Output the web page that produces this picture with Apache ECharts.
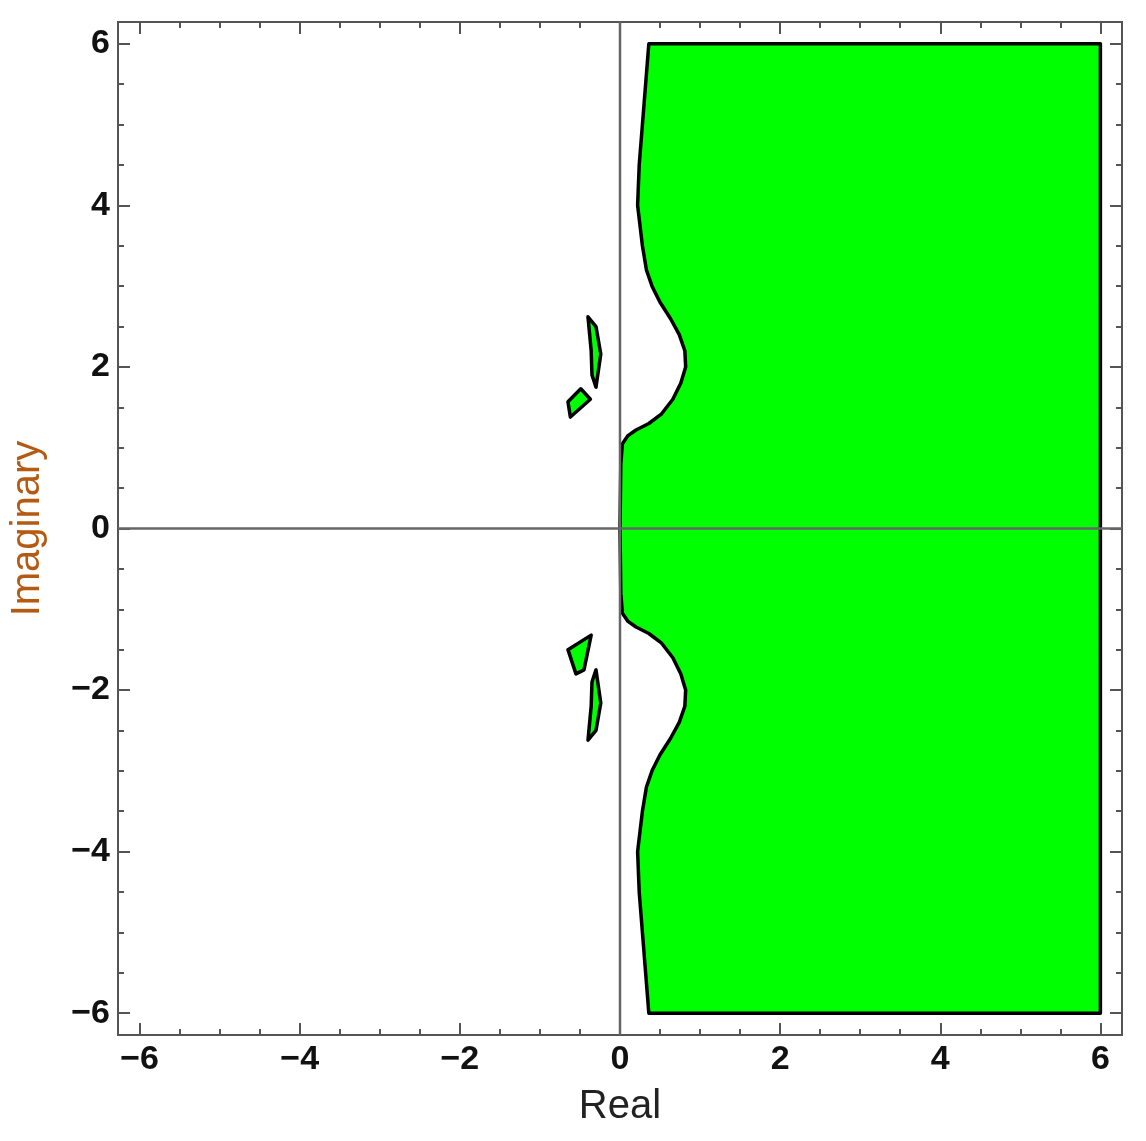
<!DOCTYPE html>
<html><head><meta charset="utf-8">
<script src="https://cdn.jsdelivr.net/npm/echarts@6/dist/echarts.min.js"></script>
<style>html,body{margin:0;background:#fff}#c{width:1146px;height:1141px}</style>
</head><body><div id="c"></div>
<script>
// upper half of the main region's left boundary, [x, y]
const mainEdgeUp = [[0,0],[0.005,0.4],[0.01,0.8],[0.03,1.05],[0.1,1.15],[0.2,1.22],[0.36,1.3],[0.52,1.42],[0.66,1.6],[0.76,1.8],[0.82,2.0],[0.81,2.2],[0.74,2.4],[0.63,2.6],[0.5,2.8],[0.4,3.0],[0.33,3.2],[0.28,3.5],[0.22,4.0],[0.24,4.5],[0.28,5.0],[0.32,5.5],[0.36,6]];
const sliverUp = [[-0.4,2.62],[-0.3,2.5],[-0.24,2.16],[-0.3,1.75],[-0.35,1.9],[-0.36,2.2]];
const quadUp = [[-0.65,1.57],[-0.49,1.73],[-0.37,1.6],[-0.62,1.38]];
const quadDn = [[-0.65,-1.5],[-0.36,-1.32],[-0.45,-1.75],[-0.55,-1.8]];
const majorTicks = [-6,-4,-2,0,2,4,6];
const minorTicks = [-6,-5.5,-5,-4.5,-4,-3.5,-3,-2.5,-2,-1.5,-1,-0.5,0,0.5,1,1.5,2,2.5,3,3.5,4,4.5,5,5.5,6];
const LIM = 6.27;

const mainRegion = mainEdgeUp.slice().reverse().concat(mainEdgeUp.slice(1).map(p => [p[0], -p[1]]), [[6,-6],[6,6]]);
const sliverDn = sliverUp.map(p => [p[0], -p[1]]);
const regions = [mainRegion, sliverUp, quadUp, sliverDn, quadDn];
const fmt = v => (v < 0 ? '\u2212' + (-v) : '' + v);

function mkAxis(type, pos, withLabels, ticks, len, name) {
  return {
    type: 'value', position: pos, min: -LIM, max: LIM,
    name: name || '', nameLocation: 'middle',
    nameGap: type === 'x' ? 52 : 70,
    nameTextStyle: type === 'x' ? {fontSize: 40, color: '#222', fontFamily: 'Liberation Sans'} : {fontSize: 40, color: '#b55a12', fontFamily: 'Liberation Sans'},
    axisLine: {show: true, onZero: false, lineStyle: {color: '#555', width: 2}},
    axisTick: {show: true, inside: true, length: len, customValues: ticks, lineStyle: {color: '#555', width: 2}},
    axisLabel: {show: withLabels, customValues: majorTicks, formatter: fmt, fontSize: 34, fontWeight: 'bold', color: '#111', fontFamily: 'Liberation Sans', margin: 8},
    splitLine: {show: false}
  };
}

const chart = echarts.init(document.getElementById('c'));
chart.setOption({
  animation: false,
  grid: {left: 116, right: 24, top: 22, bottom: 106},
  xAxis: [mkAxis('x','bottom',true,majorTicks,12,'Real'), mkAxis('x','bottom',false,minorTicks,6),
          mkAxis('x','top',false,majorTicks,12), mkAxis('x','top',false,minorTicks,6)],
  yAxis: [mkAxis('y','left',true,majorTicks,12,'Imaginary'), mkAxis('y','left',false,minorTicks,6),
          mkAxis('y','right',false,majorTicks,12), mkAxis('y','right',false,minorTicks,6)],
  series: [{
    type: 'custom', data: regions.map((r, i) => [i]),
    renderItem: function (params, api) {
      const pts = regions[params.dataIndex].map(p => api.coord(p));
      return {type: 'polygon', shape: {points: pts, smooth: 0},
        style: {fill: '#00ff00', stroke: '#000', lineWidth: 3.5, lineJoin: 'round'}};
    }
  }, {
    type: 'line', data: [[0,-LIM],[0,LIM]], symbol: 'none', lineStyle: {color: '#666', width: 2.5}, z: 5
  }, {
    type: 'line', data: [[-LIM,0],[LIM,0]], symbol: 'none', lineStyle: {color: '#666', width: 2.5}, z: 5
  }]
});
</script></body></html>
